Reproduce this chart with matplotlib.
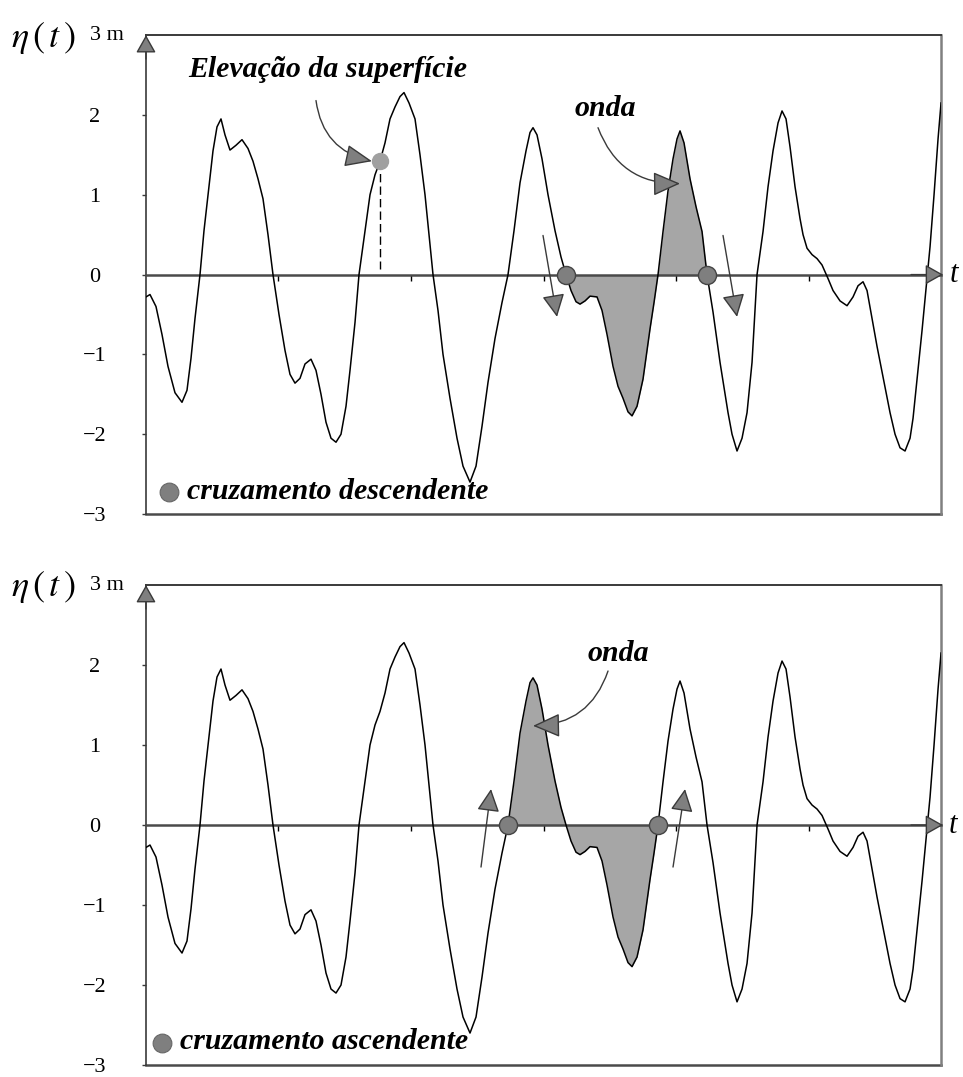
import numpy as np
import matplotlib.pyplot as plt

plt.rcParams['font.family'] = ['Liberation Serif', 'DejaVu Serif']
plt.rcParams['mathtext.fontset'] = 'stix'

# tempo (em décimos de segundo) e elevação da superfície (m)
t_dec = [0, 4, 10, 16, 22, 29, 36, 41, 45, 49, 54, 58, 62, 67, 71, 75, 79, 84, 90, 96,
         102, 107, 112, 117, 122, 127, 133, 139, 144, 149, 154, 159, 165, 170, 175, 180,
         185, 190, 195, 200, 204, 209, 213, 218, 224, 229, 234, 239, 244, 249, 254, 258,
         263, 269, 274, 279, 283, 287, 292, 297, 304, 311, 317, 324, 330, 336, 342, 349,
         356, 362, 368, 374, 380, 384, 387, 391, 396, 402, 409, 415, 420, 425, 430, 434,
         439, 444, 451, 456, 461, 467, 472, 477, 482, 486, 491, 497, 501, 504, 508, 512,
         517, 522, 527, 531, 534, 538, 544, 550, 556, 561, 567, 574, 582, 586, 591, 596,
         601, 606, 611, 617, 622, 627, 632, 636, 640, 644, 649, 654, 657, 661, 666, 671,
         676, 682, 687, 694, 701, 707, 712, 717, 721, 726, 731, 738, 744, 749, 754, 759,
         764, 767, 771, 776, 781, 784, 788, 792, 795]
eta = [-0.28, -0.25, -0.40, -0.75, -1.15, -1.48, -1.60, -1.45, -1.05, -0.55, 0.00, 0.55,
       1.00, 1.55, 1.85, 1.95, 1.75, 1.56, 1.62, 1.69, 1.58, 1.42, 1.20, 0.95, 0.50, 0.00,
       -0.50, -0.95, -1.25, -1.36, -1.30, -1.12, -1.06, -1.20, -1.50, -1.85, -2.05, -2.10,
       -2.00, -1.65, -1.20, -0.60, 0.00, 0.45, 1.00, 1.25, 1.42, 1.65, 1.95, 2.10, 2.23,
       2.28, 2.15, 1.95, 1.50, 1.00, 0.50, 0.00, -0.45, -1.00, -1.55, -2.05, -2.40, -2.60,
       -2.40, -1.90, -1.35, -0.80, -0.35, 0.00, 0.55, 1.15, 1.55, 1.78, 1.84, 1.75, 1.45,
       1.00, 0.55, 0.22, 0.00, -0.20, -0.34, -0.37, -0.33, -0.27, -0.28, -0.45, -0.75,
       -1.15, -1.40, -1.55, -1.72, -1.77, -1.65, -1.31, -0.95, -0.68, -0.35, 0.00, 0.54,
       1.05, 1.45, 1.70, 1.80, 1.65, 1.20, 0.85, 0.54, 0.00, -0.47, -1.10, -1.73, -2.00,
       -2.21, -2.05, -1.73, -1.10, 0.00, 0.54, 1.10, 1.55, 1.90, 2.05, 1.95, 1.60, 1.10,
       0.70, 0.50, 0.33, 0.25, 0.20, 0.12, -0.05, -0.20, -0.33, -0.39, -0.28, -0.14, -0.09,
       -0.20, -0.55, -0.90, -1.35, -1.73, -2.00, -2.17, -2.21, -2.05, -1.80, -1.31, -0.70,
       -0.05, 0.35, 1.00, 1.70, 2.15]

t = np.array(t_dec) / 10.0
eta = np.array(eta)

t_fim = 79.5
ticks_t = [13.25, 26.5, 39.75, 53.0, 66.25]
ticks_eta = [-3, -2, -1, 0, 1, 2]

# cruzamentos de zero que delimitam a onda em cada painel
cruz_desc = [42.0, 56.1]
cruz_asc = [36.2, 51.2]
ponto_elev = (23.4, 1.42)

cinza = '#a6a6a6'
cinza_esc = '#7f7f7f'
linha = '#3a3a3a'
fonte_bi = dict(fontsize=21.5, fontweight='bold', fontstyle='italic')


def seta(ax, ini, fim, rad=0.0, hl=1.5, hw=0.7):
    ax.annotate('', xy=fim, xytext=ini, annotation_clip=False,
                arrowprops=dict(arrowstyle='-|>,head_length=%s,head_width=%s' % (hl, hw),
                                connectionstyle='arc3,rad=%s' % rad,
                                fc=cinza_esc, ec=linha, lw=1.0,
                                shrinkA=0, shrinkB=0, mutation_scale=10))


def painel(ax, cruz, legenda, y_leg):
    ax.plot(t, eta, color='black', lw=1.1, zorder=3)
    sel = (t >= cruz[0]) & (t <= cruz[1])
    ax.fill_between(t, eta, 0, where=sel, color=cinza, lw=0, zorder=2)
    ax.plot(cruz, [0, 0], 'o', ms=13, mfc=cinza_esc, mec='#444444', mew=1.0, zorder=5)

    ax.set_xlim(0, t_fim)
    ax.set_ylim(-3, 3)
    ax.spines['bottom'].set_position(('data', 0))
    ax.spines['bottom'].set_linewidth(1.8)
    ax.spines['bottom'].set_color('#4a4a4a')
    ax.spines['left'].set_color(linha)
    ax.spines['left'].set_linewidth(1.2)
    ax.spines['top'].set_color(linha)
    ax.spines['top'].set_linewidth(1.4)
    ax.spines['right'].set_color('#808080')
    ax.spines['right'].set_linewidth(1.8)
    ax.axhline(-3, color='#4a4a4a', lw=1.8, clip_on=False)

    ax.set_xticks(ticks_t)
    ax.set_xticklabels([])
    ax.tick_params(axis='x', direction='out', length=4, width=1, color='black')
    ax.set_yticks(ticks_eta)
    ax.set_yticklabels(['\u22123', '\u22122', '\u22121', '0', '1', '2'])
    ax.tick_params(axis='y', direction='out', length=3, width=1, color=linha,
                   labelsize=16, pad=34)
    for lb in ax.get_yticklabels():
        lb.set_horizontalalignment('center')

    ax.text(-0.0704, 1.0, '3 m', transform=ax.transAxes, fontsize=16,
            ha='left', va='center')
    ax.text(-0.129, 0.995, r'$\eta\,(\,t\,)$', transform=ax.transAxes,
            fontsize=26, ha='center', va='center')

    # setas dos eixos
    seta(ax, (0, 2.7), (0, 3.0), hl=1.1, hw=0.62)
    seta(ax, (t_fim - 3, 0), (t_fim + 0.2, 0), hl=1.1, hw=0.62)

    ax.plot([y_leg[0]], [y_leg[1]], 'o', ms=13.5, mfc=cinza_esc, mec='#666666', mew=0.8)
    ax.text(y_leg[0] + 1.8, y_leg[1] - 0.08, legenda, ha='left', va='baseline', **fonte_bi)


fig = plt.figure(figsize=(9.63, 10.77), dpi=100)
ax1 = fig.add_axes([0.1516, 0.5227, 0.8256, 0.4447])
ax2 = fig.add_axes([0.1516, 0.0111, 0.8256, 0.4457])

# painel de cima: cruzamento descendente
painel(ax1, cruz_desc, 'cruzamento descendente', (2.3, -2.73))
ax1.text(1.011, 0.5, 't', transform=ax1.transAxes, fontsize=22, fontstyle='italic',
         ha='left', va='center')
ax1.plot([ponto_elev[0], ponto_elev[0]], [ponto_elev[1], 0.07], color='black',
         lw=1.0, ls=(0, (6, 3)), zorder=4)
ax1.plot([ponto_elev[0]], [ponto_elev[1]], 'o', ms=11.5, color='#a0a0a0', zorder=6)
ax1.text(4.2, 2.47, 'Elevação da superfície', ha='left', va='baseline', **fonte_bi)
seta(ax1, (17.0, 2.18), (22.6, 1.42), rad=0.35, hl=1.7, hw=0.7)
ax1.text(42.9, 1.99, 'onda', ha='left', va='baseline', **fonte_bi)
seta(ax1, (45.2, 1.84), (53.4, 1.14), rad=0.35, hl=1.7, hw=0.75)
seta(ax1, (39.7, 0.49), (41.1, -0.53), hl=1.4, hw=0.7)
seta(ax1, (57.7, 0.49), (59.1, -0.53), hl=1.4, hw=0.7)

# painel de baixo: cruzamento ascendente
painel(ax2, cruz_asc, 'cruzamento ascendente', (1.6, -2.725))
ax2.text(1.009, 0.5, 't', transform=ax2.transAxes, fontsize=22, fontstyle='italic',
         ha='left', va='center')
ax2.text(44.2, 2.05, 'onda', ha='left', va='baseline', **fonte_bi)
seta(ax2, (46.2, 1.925), (38.7, 1.24), rad=-0.35, hl=1.7, hw=0.75)
seta(ax2, (33.5, -0.525), (34.5, 0.45), hl=1.4, hw=0.7)
seta(ax2, (52.7, -0.525), (53.9, 0.45), hl=1.4, hw=0.7)

fig.savefig('out.png', dpi=100)
